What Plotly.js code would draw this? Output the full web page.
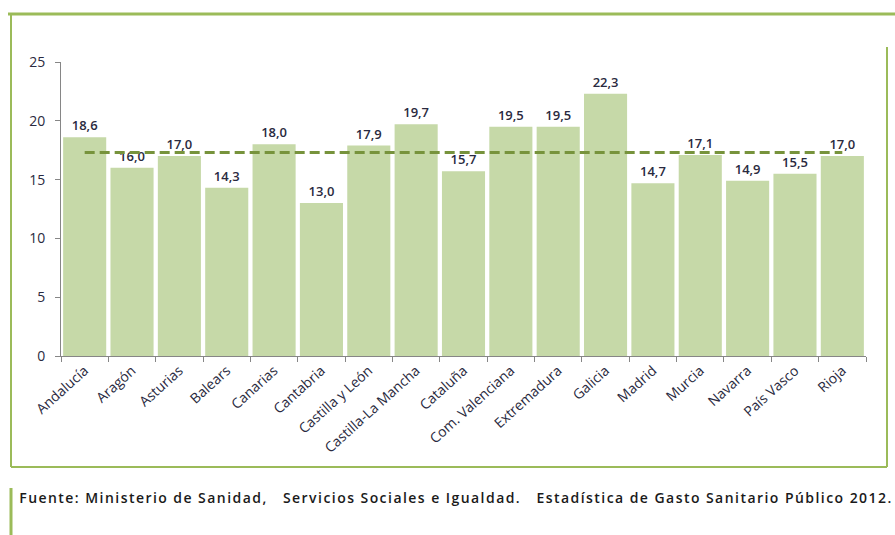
<!DOCTYPE html>
<html>
<head>
<meta charset="utf-8">
<script src="https://cdn.plot.ly/plotly-3.0.1.min.js"></script>
<style>
html,body{margin:0;padding:0;background:#fff;}
#chart{width:895px;height:535px;}
#chart .annotation-text{letter-spacing:1.45px;}
</style>
</head>
<body>
<div id="chart"></div>
<script>
const categories = ["Andalucía","Aragón","Asturias","Balears","Canarias","Cantabria","Castilla y León","Castilla-La Mancha","Cataluña","Com. Valenciana","Extremadura","Galicia","Madrid","Murcia","Navarra","País Vasco","Rioja"];
const values = [18.6,16.0,17.0,14.3,18.0,13.0,17.9,19.7,15.7,19.5,19.5,22.3,14.7,17.1,14.9,15.5,17.0];
const averageValue = 17.3;
const averageLine = categories.map(() => averageValue);
const yTicks = [0,5,10,15,20,25];
const sourceText = "Fuente: Ministerio de Sanidad,   Servicios Sociales e Igualdad.   Estadística de Gasto Sanitario Público 2012.";

// plot area in pixels
const L = 61, R = 866, T = 62, B = 356, W = 895, H = 535;
const px = x => (x - L) / (R - L);
const py = y => (B - y) / (B - T);
const green = "#9bbb59";
const fontFam = "'Open Sans', sans-serif";
const txt = "#2a2a40";

const traces = [
  {
    type: "bar",
    x: categories,
    y: values,
    marker: {color: "#c6d9a8", line: {width: 0}},
    texttemplate: "%{y:.1f}",
    textposition: "outside",
    textfont: {family: fontFam, size: 13, color: txt, weight: 600},
    cliponaxis: false,
    hoverinfo: "x+y"
  },
  {
    type: "scatter",
    mode: "lines",
    x: categories,
    y: averageLine,
    line: {color: "#77933c", width: 3, dash: "10px,5px"},
    hoverinfo: "y"
  }
];

const layout = {
  width: W, height: H,
  margin: {l: L, r: W - R, t: T, b: H - B, pad: 0},
  paper_bgcolor: "#fff",
  plot_bgcolor: "#fff",
  showlegend: false,
  separators: ",.",
  bargap: 0.09,
  font: {family: fontFam, color: txt},
  xaxis: {
    type: "category",
    showline: true, linecolor: "#868686", linewidth: 1,
    ticks: "outside", tickson: "boundaries", ticklen: 5, tickcolor: "#868686",
    tickangle: -42,
    tickfont: {size: 14, color: txt},
    showgrid: false, zeroline: false,
    fixedrange: true
  },
  yaxis: {
    range: [0, 25],
    tickvals: yTicks,
    showline: true, linecolor: "#868686", linewidth: 1,
    ticks: "outside", ticklen: 5, tickcolor: "#868686",
    tickfont: {size: 14, color: txt},
    showgrid: false, zeroline: false,
    ticklabelstandoff: 7,
    fixedrange: true
  },
  shapes: [
    {type: "line", xref: "paper", yref: "paper", x0: px(8), x1: px(895), y0: py(14), y1: py(14), line: {color: green, width: 3}},
    {type: "line", xref: "paper", yref: "paper", x0: px(11), x1: px(11), y0: py(14), y1: py(467), line: {color: green, width: 2}},
    {type: "line", xref: "paper", yref: "paper", x0: px(11), x1: px(887), y0: py(467), y1: py(467), line: {color: green, width: 2}},
    {type: "line", xref: "paper", yref: "paper", x0: px(887), x1: px(887), y0: py(47), y1: py(467), line: {color: green, width: 2}},
    {type: "line", xref: "paper", yref: "paper", x0: px(11), x1: px(11), y0: py(488), y1: py(535), line: {color: green, width: 3}}
  ],
  annotations: [
    {
      xref: "paper", yref: "paper", x: px(456), y: py(497),
      xanchor: "center", yanchor: "middle", showarrow: false,
      text: sourceText,
      font: {family: fontFam, size: 14, color: "#1a1a1a", weight: 600}
    }
  ]
};

Plotly.newPlot("chart", traces, layout, {displayModeBar: false, staticPlot: true});
</script>
</body>
</html>
